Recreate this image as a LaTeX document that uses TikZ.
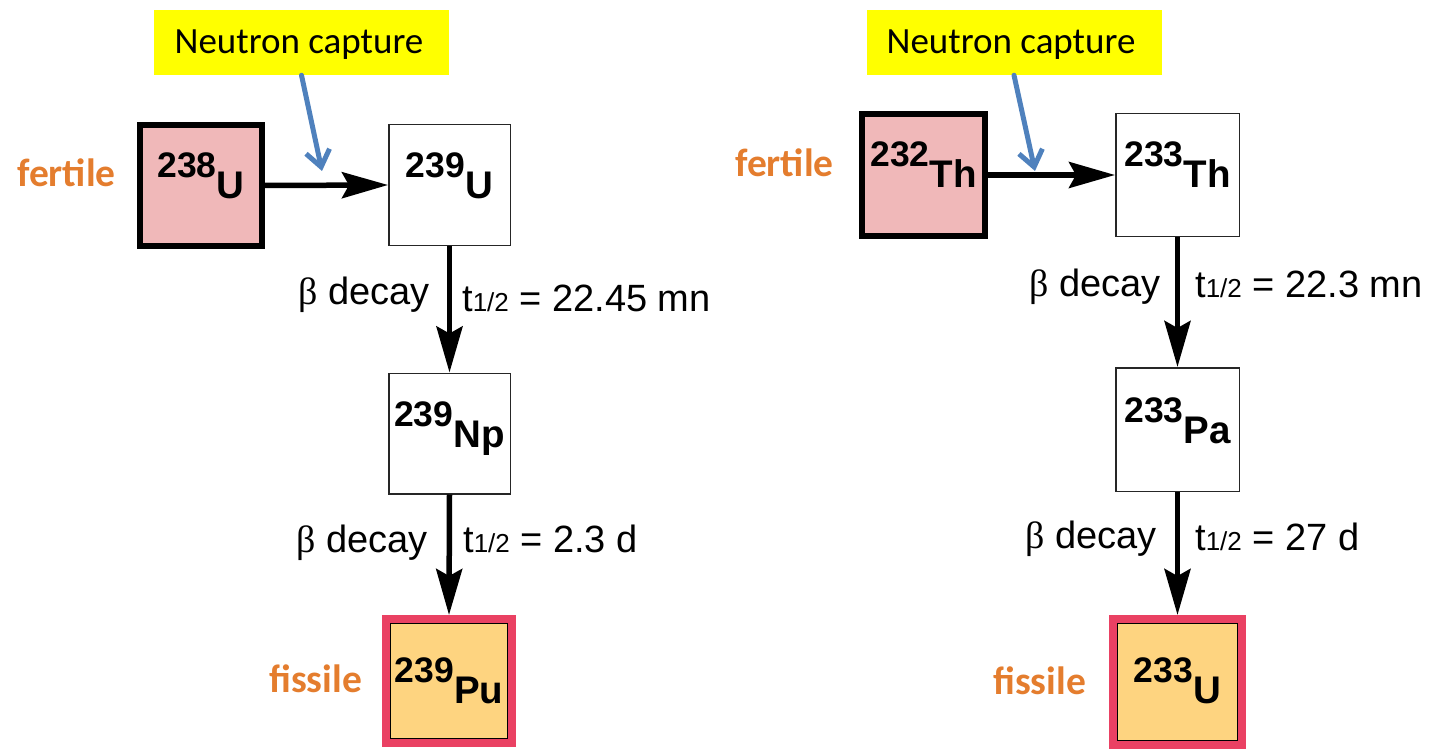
\documentclass[tikz,border=0pt]{standalone}
\usepackage{fontspec}
\setmainfont{Liberation Sans}
\newfontfamily\calibri{Carlito}
\newfontfamily\greekserif{Liberation Serif}
\usetikzlibrary{arrows.meta}

\definecolor{fertilefill}{HTML}{F0B8B9}
\definecolor{fissilefill}{HTML}{FED480}
\definecolor{fissileedge}{HTML}{EA4163}
\definecolor{tagorange}{HTML}{E47D2E}
\definecolor{captureblue}{HTML}{4F81BD}
\definecolor{noteyellow}{HTML}{FFFF00}

% isotope label: mass number, then the element symbol set lower
\newcommand\isotope[2]{\bfseries\fontsize{35.5}{36}\selectfont #1\raisebox{-21pt}{\fontsize{38.5}{40}\selectfont #2}}
% half-life label
\newcommand\halflife[1]{t{\fontsize{26}{26}\selectfont 1/2} = #1}

\tikzset{
  nuclide/.style={rectangle, draw=black!85, line width=1.5pt, fill=white,
    minimum width=121.5pt, minimum height=120.5pt, inner sep=0pt},
  fertilebox/.style={nuclide, draw=black, line width=6pt, fill=fertilefill,
    minimum width=122pt, minimum height=120pt},
  fissilebox/.style={nuclide, draw=fissileedge, line width=8pt, fill=fissilefill},
  isolabel/.style={inner sep=0pt, anchor=base},
  decay/.style={-{Stealth[length=46pt,width=26pt,inset=7pt]}, line width=5.5pt},
  capture/.style={-{Straight Barb[length=16pt,width=24pt]}, draw=captureblue, line width=5pt, line cap=round},
  note/.style={fill=noteyellow, inner sep=0pt, minimum width=295pt, minimum height=65pt},
  notetext/.style={inner sep=0pt, anchor=base, font=\calibri\fontsize{37}{37}\selectfont},
  tag/.style={inner sep=0pt, text=tagorange, font=\calibri\bfseries\fontsize{39.5}{40}\selectfont},
  rate/.style={inner sep=0pt, font=\fontsize{38}{38}\selectfont},
}

\begin{document}
\begin{tikzpicture}[x=1pt, y=-1pt]
\useasboundingbox (0,0) rectangle (1441,749);

% ---------- uranium-plutonium chain ----------
\node[note] (note1) at (301.5,42.5) {};
\node[notetext] (note1-t) at (299,54) {Neutron capture};

\node[fertilebox] (u238) at (201,185.5) {};
\node[nuclide] (u239) at (449.5,185) {};
\node[nuclide] (np239) at (449.5,433.5) {};
\node[fissilebox, minimum width=126pt, minimum height=124pt] (pu239) at (449,681) {};
\draw[black, line width=1.4pt] ([shift={(8.7pt,-8.7pt)}]pu239.north west) rectangle ([shift={(-8.7pt,8.7pt)}]pu239.south east);

\node[isolabel] (u238-t) at ([yshift=-55pt]u238.north) {\isotope{238}{U}};
\node[isolabel] (u239-t) at ([yshift=-54pt]u239.north) {\isotope{239}{U}};
\node[isolabel] (np239-t) at ([yshift=-54pt]np239.north) {\isotope{239}{Np}};
\node[isolabel] (pu239-t) at ([yshift=-67pt]pu239.north) {\isotope{239}{Pu}};

\node[tag, anchor=base west] (fert1) at (17,186) {fertile};
\node[tag, anchor=base west] (fiss1) at (269,692) {fissile};

\coordinate (cap1) at (322,171);
\draw[decay] (u238.east) -- (u239.west);
\draw[capture] (note1.south) -- (cap1);
\draw[decay] (u239.south) -- (np239.north);
\draw[decay] (np239.south) -- (pu239.north);

\node[rate, anchor=base east] (b1) at (430,304) {{\greekserif β} decay};
\node[rate, anchor=base west] (h1) at (462,311) {\halflife{22.45 mn}};
\node[rate, anchor=base east] (b2) at (428,552) {{\greekserif β} decay};
\node[rate, anchor=base west] (h2) at (463,552) {\halflife{2.3 d}};

% ---------- thorium-uranium chain ----------
\node[note] (note2) at (1014,42.5) {};
\node[notetext] (note2-t) at (1011,54) {Neutron capture};

\node[fertilebox, minimum width=123pt, minimum height=122pt] (th232) at (923.5,175) {};
\node[nuclide, minimum width=123.5pt, minimum height=122.5pt] (th233) at (1177.5,175) {};
\node[nuclide, minimum width=123.5pt, minimum height=123.5pt] (pa233) at (1177.5,429.5) {};
\node[fissilebox, minimum width=129pt, minimum height=126pt] (u233) at (1177.5,682) {};
\draw[black, line width=1.4pt] ([shift={(8.7pt,-8.7pt)}]u233.north west) rectangle ([shift={(-8.7pt,8.7pt)}]u233.south east);

\node[isolabel] (th232-t) at ([yshift=-56pt]th232.north) {\isotope{232}{Th}};
\node[isolabel] (th233-t) at ([yshift=-54pt]th233.north) {\isotope{233}{Th}};
\node[isolabel] (pa233-t) at ([yshift=-55pt]pa233.north) {\isotope{233}{Pa}};
\node[isolabel] (u233-t) at ([yshift=-67pt]u233.north) {\isotope{233}{U}};

\node[tag, anchor=base west] (fert2) at (735,176) {fertile};
\node[tag, anchor=base west] (fiss2) at (993,694) {fissile};

\coordinate (cap2) at (1035,171);
\draw[decay] (th232.east) -- (th233.west);
\draw[capture] (note2.south) -- (cap2);
\draw[decay] (th233.south) -- (pa233.north);
\draw[decay] (pa233.south) -- (u233.north);

\node[rate, anchor=base east] (b3) at (1161,296) {{\greekserif β} decay};
\node[rate, anchor=base west] (h3) at (1195,297) {\halflife{22.3 mn}};
\node[rate, anchor=base east] (b4) at (1157,548) {{\greekserif β} decay};
\node[rate, anchor=base west] (h4) at (1195,550) {\halflife{27 d}};
\end{tikzpicture}
\end{document}
